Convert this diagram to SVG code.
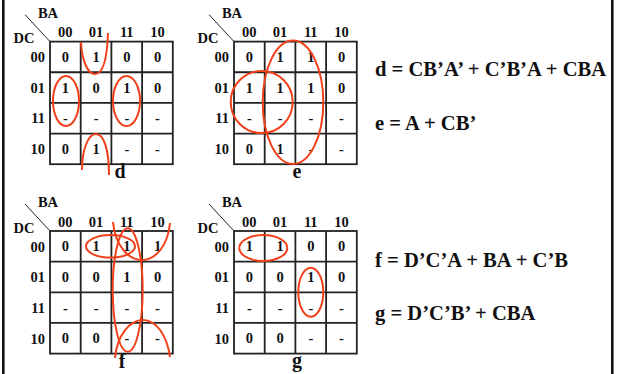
<svg xmlns="http://www.w3.org/2000/svg" width="620" height="374" viewBox="0 0 620 374">
<style>
.t{font-family:"Liberation Serif","Times New Roman",serif;font-weight:bold;fill:#111}
.c{font-size:14.5px;text-anchor:middle}
.h{font-size:14.5px;text-anchor:middle}
.r{font-size:14.5px;text-anchor:end}
.lbl{font-size:20px;text-anchor:middle}
.eq{font-size:20.6px}
.grid{fill:none;stroke:#222;stroke-width:1.8}
.loop{fill:none;stroke:#f2401a;stroke-width:2}
.frame{stroke:#111;stroke-width:2.6}
</style>
<defs>
<g id="kgrid">
<rect class="grid" x="0" y="0" width="122.8" height="122.6"/>
<path class="grid" d="M30.7,0V122.6M61.4,0V122.6M92.1,0V122.6M0,30.65H122.8M0,61.3H122.8M0,91.95H122.8"/>
<line x1="-25" y1="-27" x2="0" y2="0" stroke="#222" stroke-width="1"/>
<text class="t h" x="-2" y="-24">BA</text>
<text class="t h" x="-26" y="1.5">DC</text>
<text class="t h" x="15.35" y="-4.5">00</text>
<text class="t h" x="46.05" y="-4.5">01</text>
<text class="t h" x="76.75" y="-4.5">11</text>
<text class="t h" x="107.45" y="-4.5">10</text>
<text class="t r" x="-5" y="20.5">00</text>
<text class="t r" x="-5" y="51.1">01</text>
<text class="t r" x="-5" y="81.8">11</text>
<text class="t r" x="-5" y="112.5">10</text>
</g>
</defs>
<g id="frame">
<line class="frame" x1="3.3" y1="0" x2="3.3" y2="374"/>
<line class="frame" x1="612.3" y1="0" x2="612.3" y2="374"/>
</g>
<g id="map-d">
<use href="#kgrid" x="50" y="41.6"/>
<g class="t c">
<text x="65.4" y="62">0</text><text x="96.1" y="62">1</text><text x="126.8" y="62">0</text><text x="157.5" y="62">0</text>
<text x="65.4" y="92.6">1</text><text x="96.1" y="92.6">0</text><text x="126.8" y="92.6">1</text><text x="157.5" y="92.6">0</text>
<text x="65.4" y="123.3">-</text><text x="96.1" y="123.3">-</text><text x="126.8" y="123.3">-</text><text x="157.5" y="123.3">-</text>
<text x="65.4" y="153.9">0</text><text x="96.1" y="153.9">1</text><text x="126.8" y="153.9">-</text><text x="157.5" y="153.9">-</text>
</g>
<text class="t lbl" x="120" y="178">d</text>
</g>
<g id="map-e">
<use href="#kgrid" x="234" y="41.6"/>
<g class="t c">
<text x="249.4" y="62">0</text><text x="280.1" y="62">1</text><text x="310.8" y="62">1</text><text x="341.5" y="62">0</text>
<text x="249.4" y="92.6">1</text><text x="280.1" y="92.6">1</text><text x="310.8" y="92.6">1</text><text x="341.5" y="92.6">0</text>
<text x="249.4" y="123.3">-</text><text x="280.1" y="123.3">-</text><text x="310.8" y="123.3">-</text><text x="341.5" y="123.3">-</text>
<text x="249.4" y="153.9">0</text><text x="280.1" y="153.9">1</text><text x="310.8" y="153.9">-</text><text x="341.5" y="153.9">-</text>
</g>
<text class="t lbl" x="297" y="178">e</text>
</g>
<g id="map-f">
<use href="#kgrid" x="50" y="231"/>
<g class="t c">
<text x="65.4" y="251.4">0</text><text x="96.1" y="251.4">1</text><text x="126.8" y="251.4">1</text><text x="157.5" y="251.4">1</text>
<text x="65.4" y="282">0</text><text x="96.1" y="282">0</text><text x="126.8" y="282">1</text><text x="157.5" y="282">0</text>
<text x="65.4" y="312.7">-</text><text x="96.1" y="312.7">-</text><text x="126.8" y="312.7">-</text><text x="157.5" y="312.7">-</text>
<text x="65.4" y="343.3">0</text><text x="96.1" y="343.3">0</text><text x="126.8" y="343.3">-</text><text x="157.5" y="343.3">-</text>
</g>
<text class="t lbl" x="122" y="368">f</text>
</g>
<g id="map-g">
<use href="#kgrid" x="234" y="231"/>
<g class="t c">
<text x="249.4" y="251.4">1</text><text x="280.1" y="251.4">1</text><text x="310.8" y="251.4">0</text><text x="341.5" y="251.4">0</text>
<text x="249.4" y="282">0</text><text x="280.1" y="282">0</text><text x="310.8" y="282">1</text><text x="341.5" y="282">0</text>
<text x="249.4" y="312.7">-</text><text x="280.1" y="312.7">-</text><text x="310.8" y="312.7">-</text><text x="341.5" y="312.7">-</text>
<text x="249.4" y="343.3">0</text><text x="280.1" y="343.3">0</text><text x="310.8" y="343.3">-</text><text x="341.5" y="343.3">-</text>
</g>
<text class="t lbl" x="297" y="367">g</text>
</g>
<g id="loops">
<path class="loop" d="M81,42 C82,62 88,74 95,74 C102,74 107,62 108,33"/>
<path class="loop" d="M82,170 C82,150 88,134 96,134 C104,134 109,150 109,175"/>
<ellipse class="loop" cx="66" cy="101" rx="13" ry="25"/>
<ellipse class="loop" cx="126.5" cy="101" rx="13.5" ry="25"/>
<ellipse class="loop" cx="293" cy="102.3" rx="30.3" ry="61.7"/>
<ellipse class="loop" cx="261.7" cy="102" rx="31" ry="31"/>
<ellipse class="loop" cx="110.5" cy="246.3" rx="24.5" ry="11.3"/>
<ellipse class="loop" cx="127.7" cy="290" rx="15" ry="61.7"/>
<path class="loop" d="M113,222 C115,245 128,260 142,260 C156,260 168,245 170,223"/>
<path class="loop" d="M115,358 C117,335 130,320 143,320 C156,320 167,335 170,357"/>
<ellipse class="loop" cx="263.3" cy="248" rx="24" ry="13"/>
<ellipse class="loop" cx="310.8" cy="292.2" rx="12.5" ry="24.5"/>
</g>
<g id="equations">
<text class="t eq" x="375" y="76">d = CB’A’ + C’B’A + CBA</text>
<text class="t eq" x="375" y="130">e = A + CB’</text>
<text class="t eq" x="375" y="267">f = D’C’A + BA + C’B</text>
<text class="t eq" x="375" y="320">g = D’C’B’ + CBA</text>
</g>
</svg>
